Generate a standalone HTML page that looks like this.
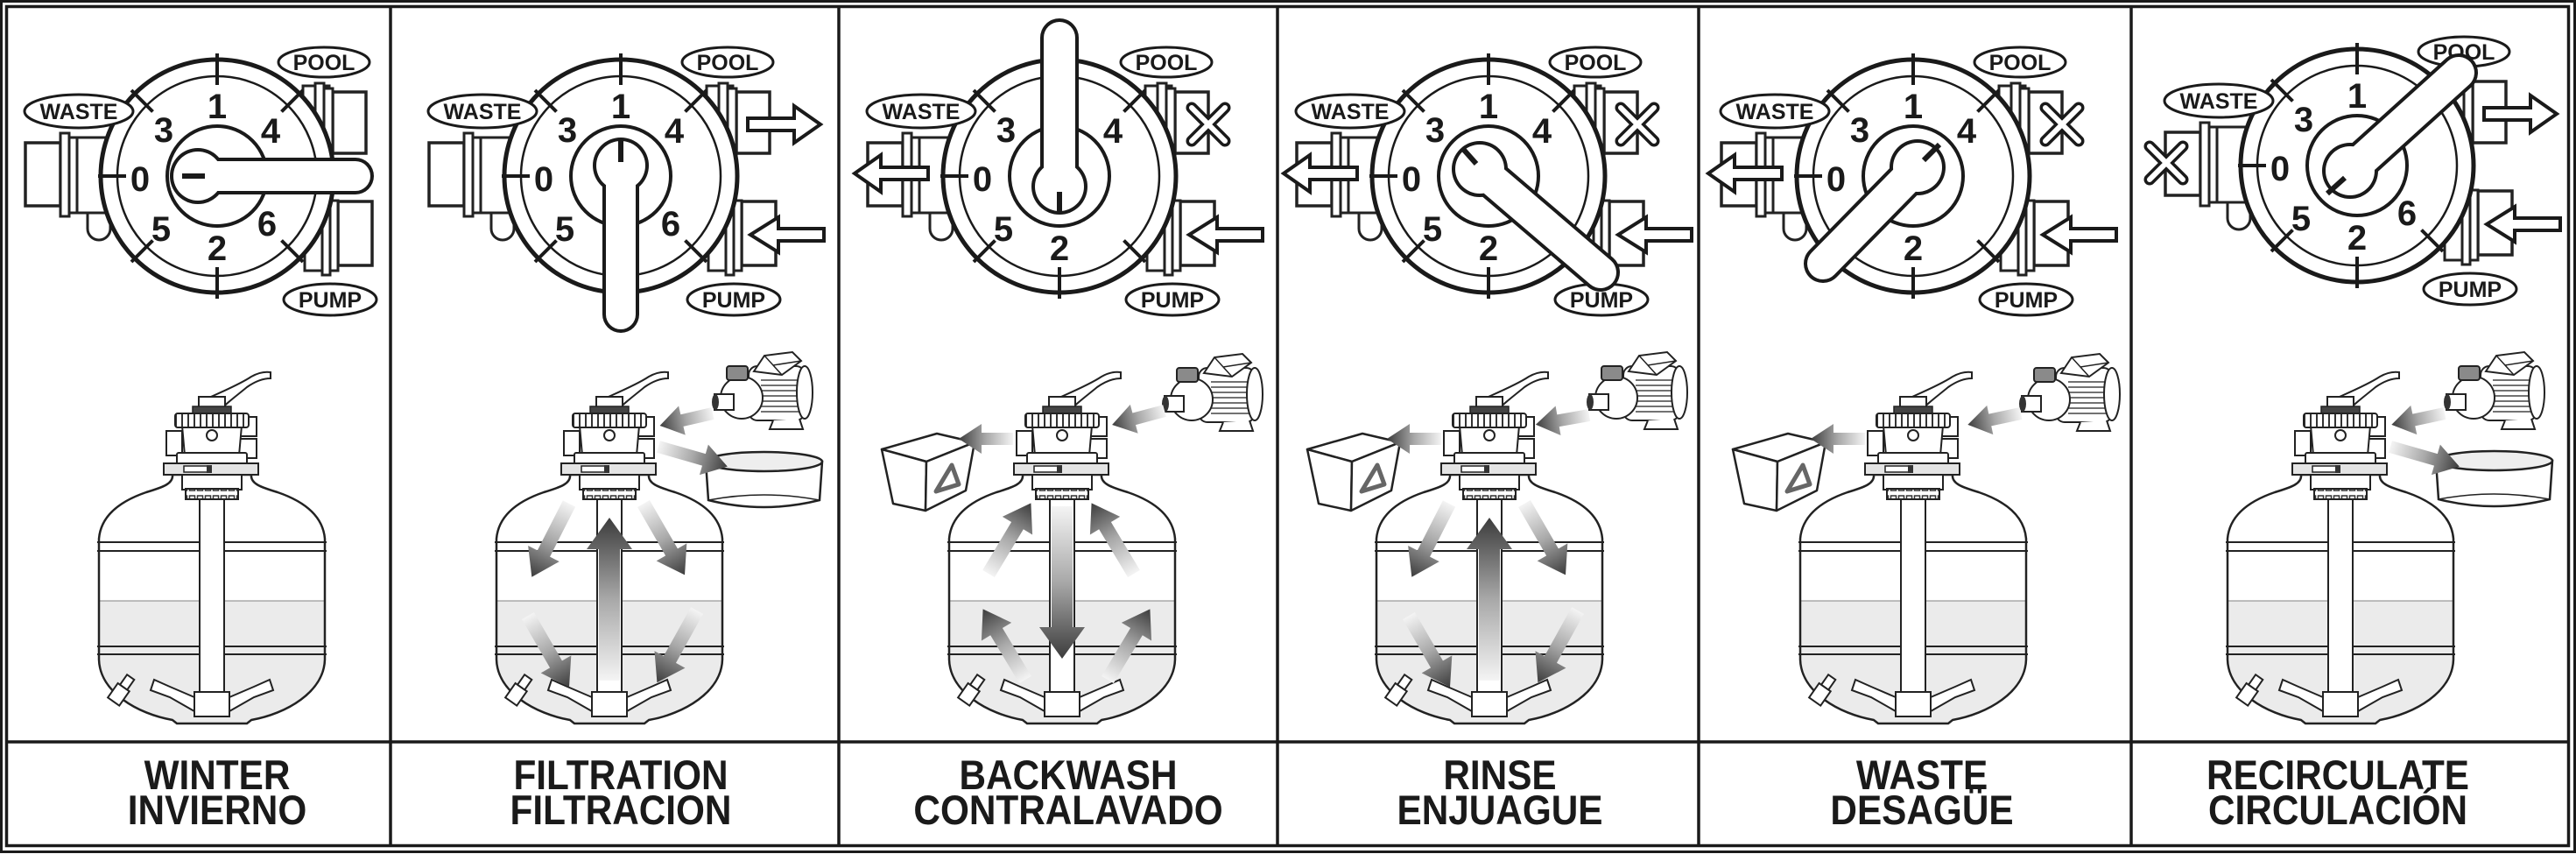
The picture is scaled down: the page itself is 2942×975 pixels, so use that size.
<!DOCTYPE html>
<html><head><meta charset="utf-8"><style>
html,body{margin:0;padding:0;background:#fff;}
svg{display:block;}
text{font-family:"Liberation Sans",Arial,sans-serif;font-weight:bold;fill:#1a1a1a;}
</style></head><body>
<svg width="2942" height="975" viewBox="0 0 2942 975" xmlns="http://www.w3.org/2000/svg">
<defs>
<linearGradient id="ag" x1="0" y1="0" x2="1" y2="0">
<stop offset="0" stop-color="#f4f4f4"/><stop offset="0.5" stop-color="#a8a8a8"/><stop offset="1" stop-color="#3c3c3c"/>
</linearGradient>
<pattern id="kn" width="7" height="20" patternUnits="userSpaceOnUse">
<rect width="7" height="20" fill="#fff"/><rect x="0" width="2" height="20" fill="#333"/>
</pattern>
<pattern id="sl" width="9" height="12" patternUnits="userSpaceOnUse">
<rect width="9" height="12" fill="#fff"/><rect x="1.5" y="2" width="6" height="6" fill="none" stroke="#333" stroke-width="1.5"/>
</pattern>
<clipPath id="tc"><path d="M-45,542 C-44,552 -55,556 -75,562 C-110,574 -127,592 -129,615 L-129,753 C-128,790 -85,815 -45,822 L-40,826 L40,826 L45,822 C85,815 128,790 129,753 L129,615 C127,592 110,574 75,562 C55,556 44,552 45,542 Z"/></clipPath>

<g id="tank">
<path d="M-45,542 C-44,552 -55,556 -75,562 C-110,574 -127,592 -129,615 L-129,753 C-128,790 -85,815 -45,822 L-40,826 L40,826 L45,822 C85,815 128,790 129,753 L129,615 C127,592 110,574 75,562 C55,556 44,552 45,542 Z" fill="#fff"/>
<rect x="-140" y="686" width="280" height="150" fill="#ebebeb" clip-path="url(#tc)"/>
<path d="M-129,686 H129" stroke="#9a9a9a" stroke-width="1.2"/>
<path d="M-131,619 H131 M-131,629 H131 M-131,738 H131 M-131,747 H131" stroke="#222" stroke-width="2"/>
<path d="M-45,542 C-44,552 -55,556 -75,562 C-110,574 -127,592 -129,615 L-129,753 C-128,790 -85,815 -45,822 L-40,826 L40,826 L45,822 C85,815 128,790 129,753 L129,615 C127,592 110,574 75,562 C55,556 44,552 45,542 Z" fill="none" stroke="#222" stroke-width="2.5"/>
<rect x="-14" y="566" width="28" height="226" fill="#fff" stroke="#222" stroke-width="2"/>
<path d="M-20,796 L-48,784 L-66,776 L-70,788 L-48,796 L-20,812 Z" fill="#fff" stroke="#222" stroke-width="2"/>
<path d="M20,796 L48,784 L66,776 L70,788 L48,796 L20,812 Z" fill="#fff" stroke="#222" stroke-width="2"/>
<rect x="-20" y="790" width="40" height="28" fill="#fff" stroke="#222" stroke-width="2"/>
<g transform="translate(-106,792) rotate(-55)"><rect x="-11" y="-8" width="20" height="16" fill="#fff" stroke="#222" stroke-width="2"/><rect x="9" y="-5" width="14" height="10" fill="#fff" stroke="#222" stroke-width="2"/></g>
<path d="M-10,470 L-10,457 C5,450 30,440 45,430 C52,426 60,424 67,425 L67,432 C58,432 50,435 40,442 C28,452 14,462 8,470 Z" fill="#fff" stroke="#222" stroke-width="2"/>
<rect x="-15" y="453" width="30" height="12" fill="#fff" stroke="#222" stroke-width="2"/>
<rect x="-22" y="464" width="44" height="9" fill="#444" stroke="#222" stroke-width="1.5"/>
<rect x="-52" y="492" width="18" height="28" fill="#fff" stroke="#222" stroke-width="2"/>
<rect x="31" y="476" width="20" height="22" fill="#fff" stroke="#222" stroke-width="2"/>
<rect x="31" y="501" width="20" height="22" fill="#fff" stroke="#222" stroke-width="2"/>
<path d="M-34,486 L34,486 L31,520 L-31,520 Z" fill="#fff" stroke="#222" stroke-width="2"/>
<rect x="-42" y="472" width="84" height="16" rx="3" fill="url(#kn)" stroke="#222" stroke-width="2"/>
<circle cx="0" cy="497" r="6" fill="#fff" stroke="#222" stroke-width="2"/>
<rect x="-40" y="517" width="80" height="13" rx="2" fill="#fff" stroke="#222" stroke-width="2"/>
<rect x="-55" y="529" width="108" height="13" fill="#e4e4e4" stroke="#222" stroke-width="2"/>
<rect x="-32" y="532" width="30" height="7" fill="#fff" stroke="#222" stroke-width="1.5"/>
<rect x="-6" y="531" width="6" height="9" fill="#333"/>
<rect x="-34" y="542" width="68" height="17" fill="#fff" stroke="#222" stroke-width="2"/>
<rect x="-30" y="558" width="60" height="12" fill="url(#sl)" stroke="#222" stroke-width="2"/>
</g>

<g id="dial">
<path d="M-148,40 L-148,60 A13,13 0 0 0 -122,60 L-122,40 Z" fill="#fff" stroke="#222" stroke-width="3"/>
<rect x="-162" y="-44" width="44" height="86" fill="#fff" stroke="#222" stroke-width="3"/>
<rect x="-219" y="-38" width="40" height="72" fill="#fff" stroke="#222" stroke-width="3.5"/>
<rect x="-179" y="-49" width="10" height="95" fill="#fff" stroke="#222" stroke-width="3"/>
<rect x="-169" y="-44" width="9" height="86" fill="#fff" stroke="#222" stroke-width="3"/>
<rect x="98" y="-103" width="30" height="80" fill="#fff" stroke="#222" stroke-width="3"/>
<rect x="132" y="-96" width="38" height="70" fill="#fff" stroke="#222" stroke-width="3.5"/>
<rect x="112" y="-106" width="10" height="88" fill="#fff" stroke="#222" stroke-width="3"/>
<rect x="122" y="-100" width="10" height="76" fill="#fff" stroke="#222" stroke-width="3"/>
<rect x="100" y="26" width="30" height="82" fill="#fff" stroke="#222" stroke-width="3"/>
<rect x="138" y="29" width="39" height="73" fill="#fff" stroke="#222" stroke-width="3.5"/>
<rect x="120" y="23" width="9" height="90" fill="#fff" stroke="#222" stroke-width="3"/>
<rect x="129" y="28" width="9" height="80" fill="#fff" stroke="#222" stroke-width="3"/>
<circle r="133" fill="#fff" stroke="#1a1a1a" stroke-width="5"/>
<circle r="114" fill="none" stroke="#1a1a1a" stroke-width="2.5"/>
<circle r="57" fill="#fff" stroke="#1a1a1a" stroke-width="4"/>
<path d="M0,-104 V-140 M0,104 V140 M-104,0 H-136 M-73.5,-73.5 L-98,-98 M73.5,-73.5 L98,-98 M73.5,73.5 L98,98 M-73.5,73.5 L-98,98" stroke="#1a1a1a" stroke-width="4"/>
<ellipse cx="-158" cy="-74" rx="62" ry="19" fill="#fff" stroke="#1a1a1a" stroke-width="3"/>
<text x="-158" y="-65" font-size="25" text-anchor="middle">WASTE</text>
<ellipse cx="122" cy="-130" rx="52" ry="17" fill="#fff" stroke="#1a1a1a" stroke-width="3"/>
<text x="122" y="-121" font-size="25" text-anchor="middle">POOL</text>
<ellipse cx="129" cy="141" rx="53" ry="18" fill="#fff" stroke="#1a1a1a" stroke-width="3"/>
<text x="129" y="150" font-size="25" text-anchor="middle">PUMP</text>
<g font-size="40" text-anchor="middle">
<text x="0" y="-66">1</text><text x="-61" y="-39">3</text><text x="61" y="-38">4</text>
<text x="-88" y="17">0</text><text x="-64" y="74">5</text><text x="0" y="96">2</text>
</g>
</g>

<path id="poolOut" d="M145,-66 L198,-66 L198,-80 L228,-59 L198,-38 L198,-52 L145,-52 Z" fill="#fff" stroke="#1a1a1a" stroke-width="4"/>
<path id="pumpIn" d="M232,60 L180,60 L180,47 L148,67 L180,87 L180,74 L232,74 Z" fill="#fff" stroke="#1a1a1a" stroke-width="4"/>
<path id="wasteOut" d="M-150,-10 L-204,-10 L-204,-24 L-234,-3 L-204,18 L-204,4 L-150,4 Z" fill="#fff" stroke="#1a1a1a" stroke-width="4"/>
<g id="xm"><path d="M-19,-19 L19,19 M19,-19 L-19,19" stroke="#1a1a1a" stroke-width="13" stroke-linecap="round"/><path d="M-19,-19 L19,19 M19,-19 L-19,19" stroke="#fff" stroke-width="6" stroke-linecap="round"/></g>

<g id="pump">
<rect x="42" y="16" width="64" height="62" rx="10" fill="#fff" stroke="#222" stroke-width="2"/>
<path d="M56,32 H100 M56,38 H100 M56,44 H100 M56,50 H100 M56,56 H100 M56,62 H100 M56,68 H100" stroke="#444" stroke-width="1.5"/>
<ellipse cx="106" cy="46" rx="9" ry="30" fill="#fff" stroke="#222" stroke-width="2"/>
<path d="M48,22 L60,4 L92,0 L102,10 L80,26 Z" fill="#fff" stroke="#222" stroke-width="2"/>
<path d="M60,4 L70,15 L102,10 M70,15 L80,26" fill="none" stroke="#222" stroke-width="1.5"/>
<circle cx="34" cy="52" r="24" fill="#fff" stroke="#222" stroke-width="2"/>
<rect x="17" y="16" width="24" height="16" rx="3" fill="#8a8a8a" stroke="#222" stroke-width="2"/>
<rect x="3" y="48" width="22" height="18" fill="#fff" stroke="#222" stroke-width="2"/>
<ellipse cx="4" cy="57" rx="4" ry="9" fill="#333"/>
<path d="M70,78 L66,88 L104,88 L100,76" fill="#fff" stroke="#222" stroke-width="2"/>
</g>
<g id="basin">
<path d="M1,12 L4,56 Q67,72 131,56 L134,12 Z" fill="#fff" stroke="#222" stroke-width="2.5"/>
<path d="M4,56 Q67,44 131,56" fill="none" stroke="#222" stroke-width="1.5"/>
<ellipse cx="67.5" cy="12" rx="66.5" ry="11" fill="#eee" stroke="#222" stroke-width="2.5"/>
</g>
<g id="bucket" stroke="#222" stroke-width="2.5" stroke-linejoin="round">
<polygon points="0,18 63,0 106,10 51,32" fill="#fff"/>
<polygon points="0,18 51,32 50,88 13,80" fill="#fff"/>
<polygon points="51,32 106,10 96,65 50,88" fill="#fff"/>
<polygon points="62,66 80,36 88,58" fill="none" stroke="#666" stroke-width="5"/>
</g>
<path id="aBig" d="M0,-12 L150,-12 L150,-26 L186,0 L150,26 L150,12 L0,12Z" fill="url(#ag)"/>
<path id="aBig2" d="M0,-12 L138,-12 L138,-26 L174,0 L138,26 L138,12 L0,12Z" fill="url(#ag)"/>
<path id="aDiag" d="M0,-8 L64,-8 L64,-20 L94,0 L64,20 L64,8 L0,8Z" fill="url(#ag)"/>
<path id="aS" d="M0,-7 L36,-7 L36,-17 L62,0 L36,17 L36,7 L0,7Z" fill="url(#ag)"/>
<path id="aM" d="M0,-7 L54,-7 L54,-18 L82,0 L54,18 L54,7 L0,7Z" fill="url(#ag)"/>
</defs>

<rect x="1.5" y="1.5" width="2939" height="971" fill="none" stroke="#1a1a1a" stroke-width="3"/>
<rect x="7.5" y="7.5" width="2926" height="958" fill="none" stroke="#1a1a1a" stroke-width="3.5"/>
<path d="M446,9 V965 M958,9 V965 M1459,9 V965 M1940,9 V965 M2434,9 V965 M9,847 H2933" stroke="#1a1a1a" stroke-width="3.5"/>

<use href="#tank" transform="translate(242,0)"/>
<use href="#tank" transform="translate(696,0)"/>
<use href="#tank" transform="translate(1213,0)"/>
<use href="#tank" transform="translate(1701,0)"/>
<use href="#tank" transform="translate(2185,0)"/>
<use href="#tank" transform="translate(2673,0)"/>

<use href="#pump" transform="translate(813,402)"/>
<use href="#pump" transform="translate(1327,404)"/>
<use href="#pump" transform="translate(1812,402)"/>
<use href="#pump" transform="translate(2306,404)"/>
<use href="#pump" transform="translate(2791,402)"/>
<use href="#basin" transform="translate(805,515)"/>
<use href="#basin" transform="translate(2781,514)"/>
<use href="#bucket" transform="translate(1007,495)"/>
<use href="#bucket" transform="translate(1493,495)"/>
<use href="#bucket" transform="translate(1979,495)"/>

<use href="#aS" transform="translate(814,472) rotate(167)"/>
<use href="#aS" transform="translate(1330,469) rotate(165)"/>
<use href="#aS" transform="translate(1815,474) rotate(170)"/>
<use href="#aS" transform="translate(2308,472) rotate(168)"/>
<use href="#aS" transform="translate(2792,472) rotate(168)"/>
<use href="#aM" transform="translate(752,510) rotate(16)"/>
<use href="#aM" transform="translate(2730,510) rotate(16)"/>
<use href="#aS" transform="translate(1157,501) rotate(180)"/>
<use href="#aS" transform="translate(1646,501) rotate(180)"/>
<use href="#aS" transform="translate(2130,501) rotate(180)"/>

<use href="#aBig" transform="translate(696,777) rotate(-90)"/>
<use href="#aDiag" transform="translate(650,575) rotate(117)"/>
<use href="#aDiag" transform="translate(735,575) rotate(60)"/>
<use href="#aDiag" transform="translate(603,703) rotate(60)"/>
<use href="#aDiag" transform="translate(796,697) rotate(119)"/>
<use href="#aBig" transform="translate(1701,777) rotate(-90)"/>
<use href="#aDiag" transform="translate(1655,575) rotate(117)"/>
<use href="#aDiag" transform="translate(1741,575) rotate(60)"/>
<use href="#aDiag" transform="translate(1609,703) rotate(60)"/>
<use href="#aDiag" transform="translate(1802,697) rotate(119)"/>
<use href="#aBig2" transform="translate(1213,578) rotate(90)"/>
<use href="#aDiag" transform="translate(1129,655) rotate(-59)"/>
<use href="#aDiag" transform="translate(1295,655) rotate(-121)"/>
<use href="#aDiag" transform="translate(1171,776) rotate(-121)"/>
<use href="#aDiag" transform="translate(1265,776) rotate(-59)"/>

<g transform="translate(248,201)">
<use href="#dial"/><text x="57" y="68" font-size="40" text-anchor="middle">6</text>
<path d="M-22,0 L158,0" stroke="#1a1a1a" stroke-width="42" stroke-linecap="round"/><circle cx="-22" cy="0" r="32" fill="#1a1a1a"/>
<path d="M-22,0 L158,0" stroke="#fff" stroke-width="34" stroke-linecap="round"/><circle cx="-22" cy="0" r="28" fill="#fff"/>
<path d="M-40,0 L-14,0" stroke="#1a1a1a" stroke-width="6"/>
</g>
<g transform="translate(709,201)">
<use href="#dial"/><text x="57" y="68" font-size="40" text-anchor="middle">6</text>
<use href="#poolOut"/><use href="#pumpIn"/>
<path d="M0,-12 L0,158" stroke="#1a1a1a" stroke-width="42" stroke-linecap="round"/><circle cx="0" cy="-12" r="32" fill="#1a1a1a"/>
<path d="M0,-12 L0,158" stroke="#fff" stroke-width="34" stroke-linecap="round"/><circle cx="0" cy="-12" r="28" fill="#fff"/>
<path d="M0,-40 L0,-16" stroke="#1a1a1a" stroke-width="6"/>
</g>
<g transform="translate(1210,201)">
<use href="#dial"/>
<use href="#xm" transform="translate(170,-59)"/><use href="#wasteOut"/><use href="#pumpIn"/>
<path d="M0,12 L0,-158" stroke="#1a1a1a" stroke-width="44" stroke-linecap="round"/><circle cx="0" cy="12" r="32" fill="#1a1a1a"/>
<path d="M0,12 L0,-158" stroke="#fff" stroke-width="36" stroke-linecap="round"/><circle cx="0" cy="12" r="28" fill="#fff"/>
<path d="M0,18 L0,42" stroke="#1a1a1a" stroke-width="6"/>
</g>
<g transform="translate(1700,201)">
<use href="#dial"/>
<use href="#xm" transform="translate(170,-59)"/><use href="#wasteOut"/><use href="#pumpIn"/>
<path d="M-10,-8 L128,110" stroke="#1a1a1a" stroke-width="44" stroke-linecap="round"/><circle cx="-10" cy="-8" r="32" fill="#1a1a1a"/>
<path d="M-10,-8 L128,110" stroke="#fff" stroke-width="36" stroke-linecap="round"/><circle cx="-10" cy="-8" r="28" fill="#fff"/>
<path d="M-14,-14 L-30,-32" stroke="#1a1a1a" stroke-width="6"/>
</g>
<g transform="translate(2185,201)">
<use href="#dial"/>
<use href="#xm" transform="translate(170,-59)"/><use href="#wasteOut"/><use href="#pumpIn"/>
<path d="M5,-10 L-103,100" stroke="#1a1a1a" stroke-width="44" stroke-linecap="round"/><circle cx="5" cy="-10" r="32" fill="#1a1a1a"/>
<path d="M5,-10 L-103,100" stroke="#fff" stroke-width="36" stroke-linecap="round"/><circle cx="5" cy="-10" r="28" fill="#fff"/>
<path d="M12,-18 L30,-36" stroke="#1a1a1a" stroke-width="6"/>
</g>
<g transform="translate(2692,189)">
<use href="#dial"/><text x="57" y="68" font-size="40" text-anchor="middle">6</text>
<use href="#xm" transform="translate(-218,-3)"/><use href="#poolOut"/><use href="#pumpIn"/>
<path d="M-8,6 L116,-106" stroke="#1a1a1a" stroke-width="44" stroke-linecap="round"/><circle cx="-8" cy="6" r="32" fill="#1a1a1a"/>
<path d="M-8,6 L116,-106" stroke="#fff" stroke-width="36" stroke-linecap="round"/><circle cx="-8" cy="6" r="28" fill="#fff"/>
<path d="M-14,14 L-34,32" stroke="#1a1a1a" stroke-width="6"/>
</g>

<g font-size="47" text-anchor="middle">
<text transform="translate(248,901) scale(0.9,1)">WINTER</text>
<text transform="translate(248,941) scale(0.9,1)">INVIERNO</text>
<text transform="translate(709,901) scale(0.9,1)">FILTRATION</text>
<text transform="translate(709,941) scale(0.9,1)">FILTRACION</text>
<text transform="translate(1220,901) scale(0.9,1)">BACKWASH</text>
<text transform="translate(1220,941) scale(0.9,1)">CONTRALAVADO</text>
<text transform="translate(1713,901) scale(0.9,1)">RINSE</text>
<text transform="translate(1713,941) scale(0.9,1)">ENJUAGUE</text>
<text transform="translate(2195,901) scale(0.9,1)">WASTE</text>
<text transform="translate(2195,941) scale(0.9,1)">DESAGÜE</text>
<text transform="translate(2670,901) scale(0.9,1)">RECIRCULATE</text>
<text transform="translate(2670,941) scale(0.9,1)">CIRCULACIÓN</text>
</g>
</svg>
</body></html>
